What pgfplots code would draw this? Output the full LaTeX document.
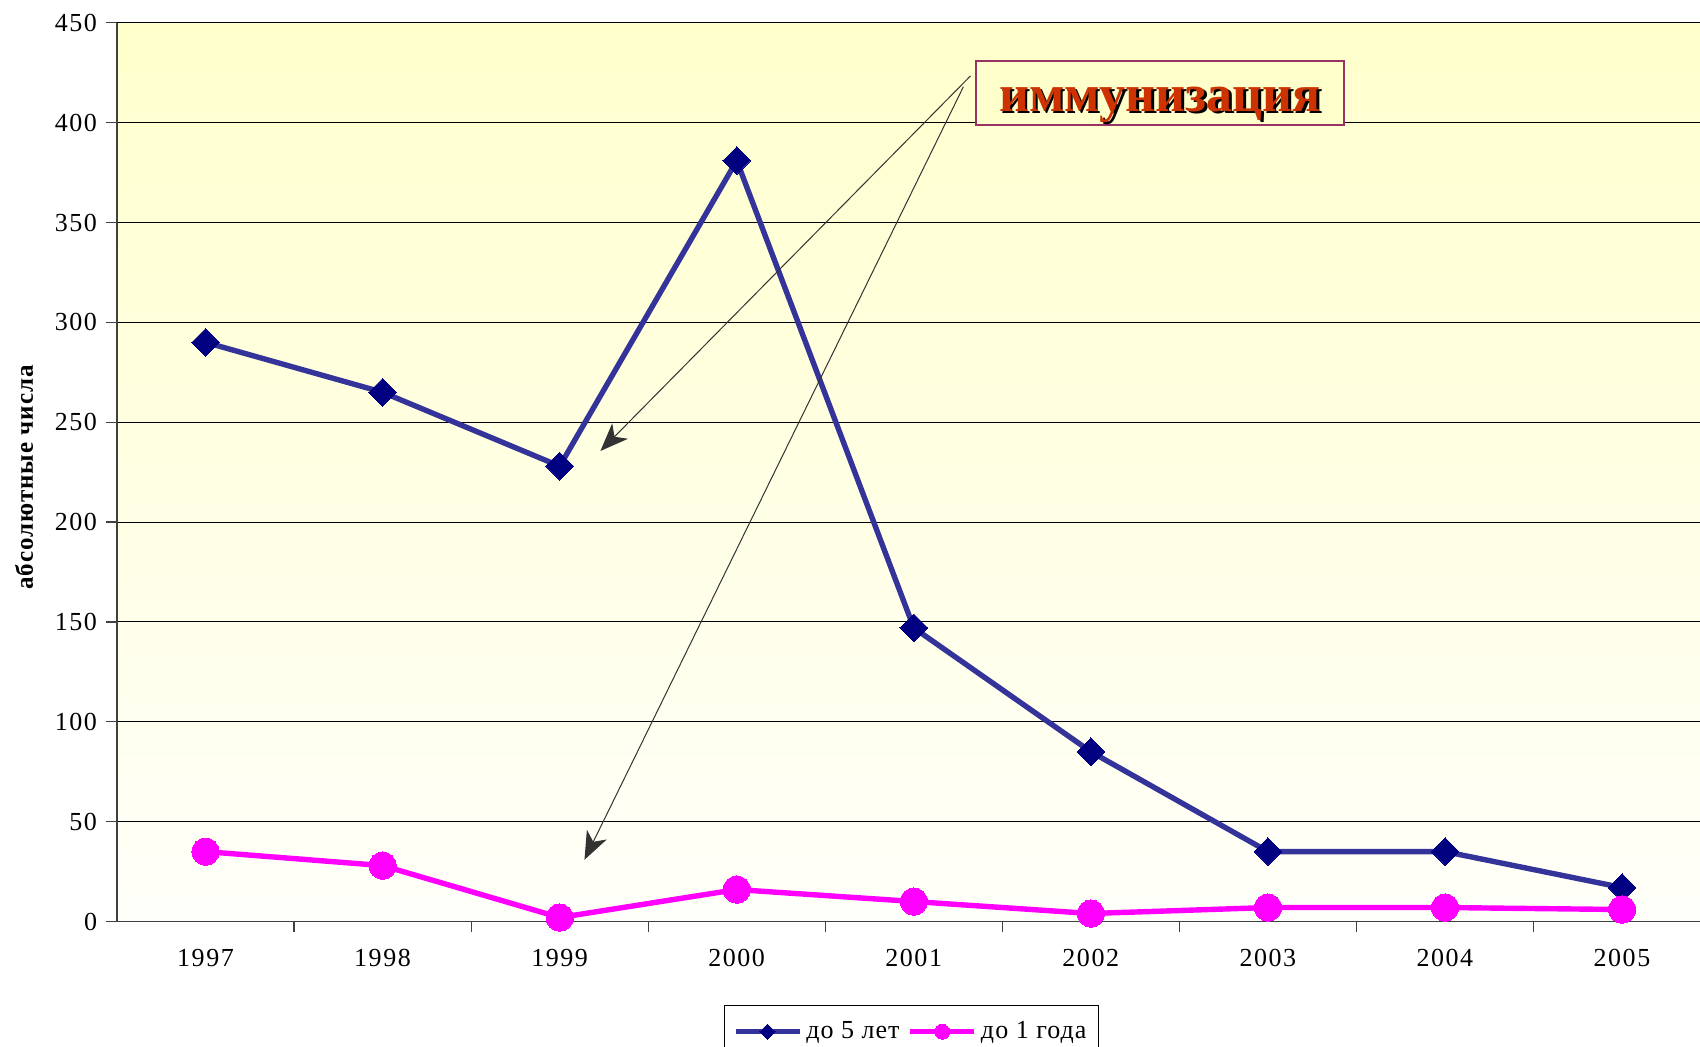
\documentclass[border=0pt]{standalone}
\usepackage{pgfplots}
\pgfplotsset{compat=1.18}
\usepackage{fontspec}
\setmainfont{Liberation Serif}
\newfontfamily\tickfont[LetterSpace=6]{Liberation Serif}
\newfontfamily\labfont[LetterSpace=4]{Liberation Serif}
\usetikzlibrary{arrows.meta}
\definecolor{navyline}{RGB}{51,51,153}
\definecolor{navymark}{RGB}{0,0,128}
\definecolor{mag}{RGB}{255,0,255}
\definecolor{boxborder}{RGB}{153,51,102}
\definecolor{boxfill}{RGB}{255,255,204}
\definecolor{imtext}{RGB}{204,51,0}
\definecolor{arrowc}{RGB}{51,51,51}
\begin{document}
\begin{tikzpicture}
\useasboundingbox (-58.5pt,-62.25pt) rectangle (791.5pt,460.75pt);
\begin{axis}[
  at={(0,0)}, anchor=south west,
  scale only axis, width=791.5pt, height=449.35pt,
  xmin=1996.5, xmax=2005.44, ymin=0, ymax=450,
  axis x line=bottom, axis y line=left,
  axis line style={-, draw=black!75, line width=0.7pt},
  axis background/.style={shade, top color=boxfill, bottom color={rgb,255:red,255;green,255;blue,250}},
  xtick={1997,...,2005},
  minor xtick={1997.5,1998.5,...,2004.5},
  ytick={0,50,...,450},
  tick align=outside,
  major tick length=5.5pt, minor tick length=5pt,
  major x tick style={draw=none},
  minor x tick style={draw=black!75, line width=0.6pt},
  major y tick style={draw=black!75, line width=0.6pt},
  ymajorgrids, grid style={black, line width=0.5pt},
  /pgf/number format/1000 sep={},
  /pgf/number format/assume math mode=true,
  ticklabel style={font=\tickfont\fontsize{13}{15}\selectfont},
  xticklabel style={yshift=-5pt},
  yticklabel style={xshift=-1pt},
  legend columns=2,
  legend style={at={(0.502,0)}, anchor=north, yshift=-41.75pt,
    draw=black, line width=0.6pt, fill=white,
    font=\labfont\fontsize{13}{15}\selectfont, inner xsep=4pt, inner ysep=6pt,
    /tikz/every even column/.append style={column sep=2pt}},
  legend image code/.code={%
    \begin{scope}[every mark/.append style={scale=0.55}]
    \draw[mark repeat=2,mark phase=2] plot coordinates {(0pt,0pt) (16pt,0pt) (32pt,0pt)};
    \end{scope}},
  clip=false,
]
\addplot[navyline, line width=2.7pt, mark=square*, mark size=4.9pt,
  mark options={rotate=45, fill=navymark, draw=navymark, line width=0pt}]
  coordinates {(1997,290) (1998,265) (1999,228) (2000,381) (2001,147) (2002,85) (2003,35) (2004,35) (2005,17)};
\addlegendentry{до 5 лет}
\addplot[mag, line width=2.7pt, mark=*, mark size=6.8pt,
  mark options={fill=mag, draw=mag, line width=0pt}]
  coordinates {(1997,35) (1998,28) (1999,2) (2000,16) (2001,10) (2002,4) (2003,7) (2004,7) (2005,6)};
\addlegendentry{до 1 года}
\draw[arrowc, line width=0.5pt, -{Stealth[length=14pt,width=11pt,inset=4pt]}]
  (axis cs:2001.32,423.4) -- (axis cs:1999.23,235.6);
\draw[arrowc, line width=0.5pt, -{Stealth[length=14pt,width=11pt,inset=4pt]}]
  (axis cs:2001.28,418) -- (axis cs:1999.14,30.9);
\node[draw=boxborder, line width=1pt, fill=boxfill, minimum width=184pt, minimum height=32pt, inner sep=0pt]
  (box) at (axis cs:2002.39,415) {};
\node[text=black, font=\fontsize{26}{30}\selectfont\bfseries] at ([xshift=1.2pt,yshift=-7.2pt]box.center) {иммунизация};
\node[text=imtext, font=\fontsize{26}{30}\selectfont\bfseries] at ([yshift=-6pt]box.center) {иммунизация};
\end{axis}
\node[rotate=90, font=\labfont\fontsize{12.5}{14}\selectfont\bfseries] at (-46.5pt,222pt) {абсолютные числа};
\end{tikzpicture}
\end{document}
